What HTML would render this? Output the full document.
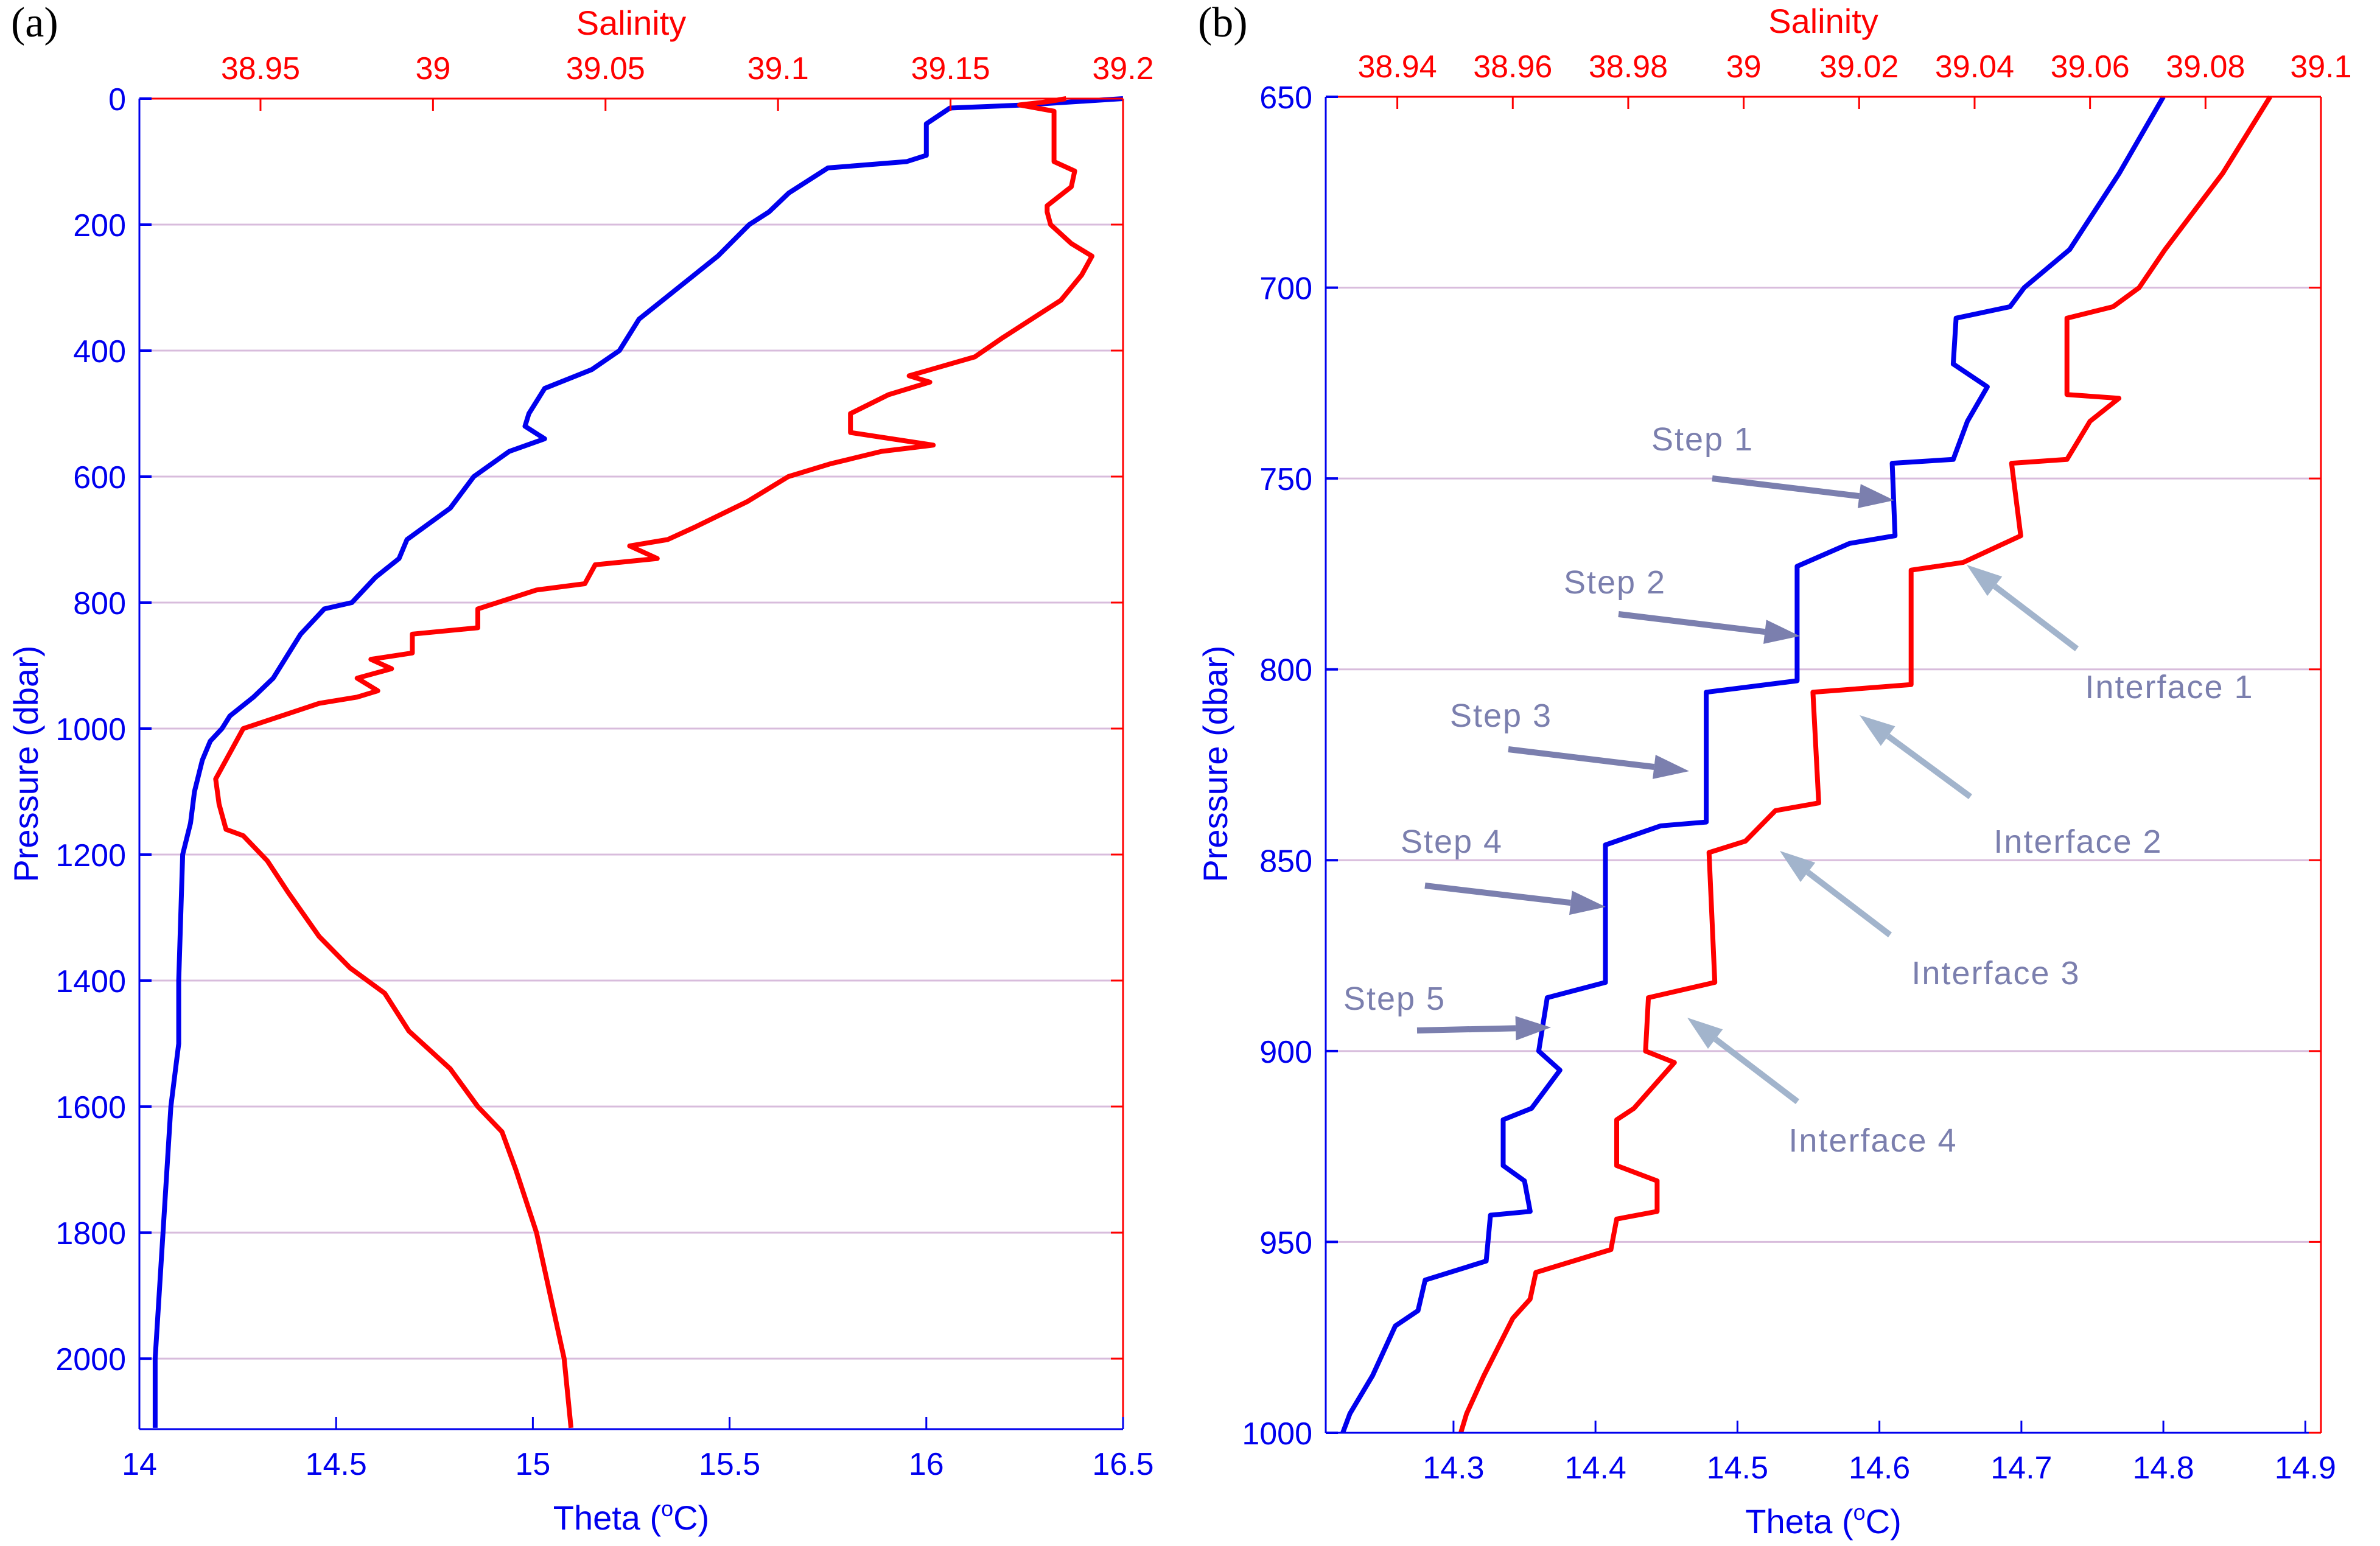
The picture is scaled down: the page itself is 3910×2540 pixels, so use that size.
<!DOCTYPE html>
<html><head><meta charset="utf-8">
<style>
html,body{margin:0;padding:0;background:#fff;}
svg{display:block;}
text{font-family:"Liberation Sans",Arial,sans-serif;}
</style></head>
<body>
<svg id="chart" width="3910" height="2540" viewBox="0 0 3910 2540" xmlns="http://www.w3.org/2000/svg">
<rect x="0" y="0" width="3910" height="2540" fill="#fff"/>
<g id="panelA"></g>
<g id="panelB"></g>
</svg>
<script>
// ---------- Panel (a) data ----------
const aThetaP = [0,10,15,40,90,100,110,150,180,200,250,300,350,400,430,460,500,520,540,560,600,650,700,730,760,800,810,850,880,920,950,980,1000,1020,1050,1100,1150,1200,1400,1500,1600,1800,2000,2110];
const aThetaV = [16.5,16.25,16.06,16.0,16.0,15.95,15.75,15.65,15.6,15.55,15.47,15.37,15.27,15.22,15.15,15.03,14.99,14.98,15.03,14.94,14.85,14.79,14.68,14.66,14.6,14.54,14.47,14.41,14.38,14.34,14.29,14.23,14.21,14.18,14.16,14.14,14.13,14.11,14.1,14.1,14.08,14.06,14.04,14.04];
const aSalP = [0,5,10,20,100,115,140,170,180,200,230,250,280,320,380,410,440,450,470,500,530,550,560,580,600,640,680,700,710,730,740,770,780,810,840,850,880,890,905,920,940,950,960,980,1000,1030,1080,1120,1160,1170,1210,1260,1330,1380,1420,1480,1540,1600,1640,1700,1800,1900,2000,2110];
const aSalV = [39.1835,39.178,39.17,39.18,39.18,39.186,39.185,39.178,39.178,39.179,39.185,39.191,39.188,39.182,39.165,39.157,39.138,39.144,39.132,39.121,39.121,39.145,39.13,39.115,39.103,39.091,39.076,39.068,39.057,39.065,39.047,39.044,39.03,39.013,39.013,38.994,38.994,38.982,38.988,38.978,38.984,38.978,38.967,38.956,38.945,38.942,38.937,38.938,38.94,38.945,38.952,38.958,38.967,38.976,38.986,38.993,39.005,39.013,39.02,39.024,39.03,39.034,39.038,39.04];
const aPTicks = [0,200,400,600,800,1000,1200,1400,1600,1800,2000];
const aTTicks = [14,14.5,15,15.5,16,16.5];
const aTTickLabels = ["14","14.5","15","15.5","16","16.5"];
const aSTicks = [38.95,39,39.05,39.1,39.15,39.2];
const aSTickLabels = ["38.95","39","39.05","39.1","39.15","39.2"];

// ---------- Panel (b) data ----------
const bThetaP = [650,670,690,700,705,708,720,726,735,745,746,765,767,773,803,806,840,841,846,882,886,900,905,915,918,930,934,942,943,955,960,968,972,985,995,1000];
const bThetaV = [14.8,14.769,14.734,14.702,14.692,14.654,14.652,14.676,14.662,14.652,14.609,14.611,14.579,14.542,14.542,14.478,14.478,14.446,14.407,14.407,14.366,14.36,14.375,14.355,14.335,14.335,14.35,14.354,14.326,14.323,14.28,14.275,14.259,14.243,14.227,14.222];
const bSalP = [650,670,690,700,705,708,728,729,735,745,746,765,772,774,804,806,835,837,845,848,882,886,900,903,915,918,930,934,942,944,952,958,965,970,985,995,1000];
const bSalV = [39.0912,39.083,39.073,39.0685,39.064,39.056,39.056,39.065,39.06,39.056,39.0464,39.048,39.038,39.029,39.029,39.012,39.013,39.0055,39.0003,38.994,38.995,38.9835,38.983,38.988,38.981,38.978,38.978,38.985,38.985,38.978,38.977,38.964,38.963,38.96,38.955,38.952,38.951];
const bPTicks = [650,700,750,800,850,900,950,1000];
const bTTicks = [14.3,14.4,14.5,14.6,14.7,14.8,14.9];
const bTTickLabels = ["14.3","14.4","14.5","14.6","14.7","14.8","14.9"];
const bSTicks = [38.94,38.96,38.98,39,39.02,39.04,39.06,39.08,39.1];
const bSTickLabels = ["38.94","38.96","38.98","39","39.02","39.04","39.06","39.08","39.1"];

const NS = "http://www.w3.org/2000/svg";
function mk(tag, attrs, parent){
  const e = document.createElementNS(NS, tag);
  for (const k in attrs) e.setAttribute(k, attrs[k]);
  parent.appendChild(e);
  return e;
}
const BLUE = "#0000ee", RED = "#ff0000", GRID = "#d8bcdc";

function drawPanel(g, cfg){
  const {L,R,T,B,tMin,tMax,sMin,sMax,pMin,pMax} = cfg;
  const xT = v => L + (v - tMin) / (tMax - tMin) * (R - L);
  const xS = v => L + (v - sMin) / (sMax - sMin) * (R - L);
  const yP = v => T + (v - pMin) / (pMax - pMin) * (B - T);

  cfg.pTicks.forEach(p => {
    if (p === pMin) return;
    const gl = mk("line", {x1:L, x2:R, y1:yP(p), y2:yP(p), stroke:GRID, "stroke-width":3}, g);
    
    
  });
  const blue = mk("polyline", {points: cfg.tP.map((p,i)=>xT(cfg.tV[i]).toFixed(1)+","+yP(p).toFixed(1)).join(" "), fill:"none", stroke:BLUE, "stroke-width":8, "stroke-linejoin":"round"}, g);
  
  
  const red = mk("polyline", {points: cfg.sP.map((p,i)=>xS(cfg.sV[i]).toFixed(1)+","+yP(p).toFixed(1)).join(" "), fill:"none", stroke:RED, "stroke-width":8, "stroke-linejoin":"round"}, g);
  
  

  const sl = mk("line",{x1:L,x2:L,y1:T,y2:B,stroke:BLUE,"stroke-width":3},g);
   
  const sb = mk("line",{x1:L,x2:R,y1:B,y2:B,stroke:BLUE,"stroke-width":3},g);
   
  const st = mk("line",{x1:L,x2:R,y1:T,y2:T,stroke:RED,"stroke-width":3},g);
   
  const sr = mk("line",{x1:R,x2:R,y1:T,y2:B,stroke:RED,"stroke-width":3},g);
   

  cfg.pTicks.forEach(p => {
    const y = yP(p);
    mk("line",{x1:L,x2:L+20,y1:y,y2:y,stroke:BLUE,"stroke-width":4},g);
    mk("line",{x1:R-20,x2:R,y1:y,y2:y,stroke:RED,"stroke-width":3},g);
    const t = mk("text",{x:L-22,y:y+19,"text-anchor":"end","font-size":52,fill:BLUE},g);
    t.textContent = String(p);
    
    
  });
  cfg.tTicks.forEach((v,i) => {
    const x = xT(v);
    mk("line",{x1:x,x2:x,y1:B,y2:B-20,stroke:BLUE,"stroke-width":3},g);
    const t = mk("text",{x:x,y:B+75,"text-anchor":"middle","font-size":52,fill:BLUE},g);
    t.textContent = cfg.tLabels[i];
    
    
  });
  cfg.sTicks.forEach((v,i) => {
    const x = xS(v);
    mk("line",{x1:x,x2:x,y1:T,y2:T+20,stroke:RED,"stroke-width":3},g);
    const t = mk("text",{x:x,y:T-32,"text-anchor":"middle","font-size":52,fill:RED},g);
    t.textContent = cfg.sLabels[i];
    
    
  });
  const cx = (L+R)/2;
  const stt = mk("text",{x:cx,y:T-105,"text-anchor":"middle","font-size":56,fill:RED},g);
  stt.textContent = "Salinity";
   
  const tt = mk("text",{x:cx,y:B+165,"text-anchor":"middle","font-size":56,fill:BLUE},g);
  tt.innerHTML = 'Theta (<tspan dy="-22" font-size="36">o</tspan><tspan dy="22">C)</tspan>';
   
  const pt = mk("text",{x:0,y:0,"text-anchor":"middle","font-size":56,fill:BLUE,transform:`translate(${cfg.pTitleX},${cfg.pTitleY}) rotate(-90)`},g);
  pt.textContent = "Pressure (dbar)";
   
  const pl = mk("text",{x:cfg.labelX,y:60,"font-size":70,fill:"#000"},g);
  pl.setAttribute("style","font-family:'Liberation Serif',serif");
  pl.textContent = cfg.label;
   
  return {xT,xS,yP};
}

drawPanel(document.getElementById("panelA"), {
  L:229,R:1845,T:162,B:2348,tMin:14,tMax:16.5,sMin:38.9149,sMax:39.2,pMin:0,pMax:2112,
  tP:aThetaP,tV:aThetaV,sP:aSalP,sV:aSalV,pTicks:aPTicks,tTicks:aTTicks,tLabels:aTTickLabels,
  sTicks:aSTicks,sLabels:aSTickLabels,pTitleX:62,pTitleY:1255,labelX:18,label:"(a)"
});
drawPanel(document.getElementById("panelB"), {
  L:2178,R:3813,T:159,B:2354,tMin:14.21,tMax:14.911,sMin:38.9276,sMax:39.1,pMin:650,pMax:1000,
  tP:bThetaP,tV:bThetaV,sP:bSalP,sV:bSalV,pTicks:bPTicks,tTicks:bTTicks,tLabels:bTTickLabels,
  sTicks:bSTicks,sLabels:bSTickLabels,pTitleX:2016,pTitleY:1255,labelX:1968,label:"(b)"
});

const annG = document.getElementById("panelB");
const stepNames = ["Step 1","Step 2","Step 3","Step 4","Step 5"];
const stepText = [[2797,740],[2653,975],[2466,1194],[2385,1401],[2291,1659]];
const stepArrows = [[2813,786,3112,822],[2659,1009,2957,1045],[2478,1231,2775,1267],[2341,1455,2638,1490],[2328,1693,2548,1688]];
const ifNames = ["Interface 1","Interface 2","Interface 3","Interface 4"];
const ifText = [[3564,1147],[3414,1401],[3279,1617],[3077,1892]];
const ifArrows = [[3412,1066,3231,928],[3237,1309,3055,1175],[3105,1536,2924,1398],[2953,1810,2772,1672]];
function arrow(a, color, w){
  const [x1,y1,x2,y2] = a;
  const dx=x2-x1, dy=y2-y1, len=Math.hypot(dx,dy), ux=dx/len, uy=dy/len;
  const hl=58, hw=20;
  const bx=x2-ux*hl, by=y2-uy*hl;
  const g = mk("g",{},annG);
  mk("line",{x1:x1,y1:y1,x2:bx,y2:by,stroke:color,"stroke-width":w},g);
  mk("polygon",{points:`${x2},${y2} ${bx-uy*hw},${by+ux*hw} ${bx+uy*hw},${by-ux*hw}`,fill:color},g);
  return g;
}
stepNames.forEach((n,i)=>{
  const t = mk("text",{x:stepText[i][0],y:stepText[i][1],"text-anchor":"middle","font-size":54,fill:"#7b7fae","letter-spacing":2},annG);
  t.textContent = n;
  
  
  const a = arrow(stepArrows[i], "#7b7fae", 10);
  
  
});
ifNames.forEach((n,i)=>{
  const t = mk("text",{x:ifText[i][0],y:ifText[i][1],"text-anchor":"middle","font-size":54,fill:"#7b7fae","letter-spacing":2},annG);
  t.textContent = n;
  
  
  const a = arrow(ifArrows[i], "#a2b4cc", 10);
  
  
});
</script>
</body></html>
